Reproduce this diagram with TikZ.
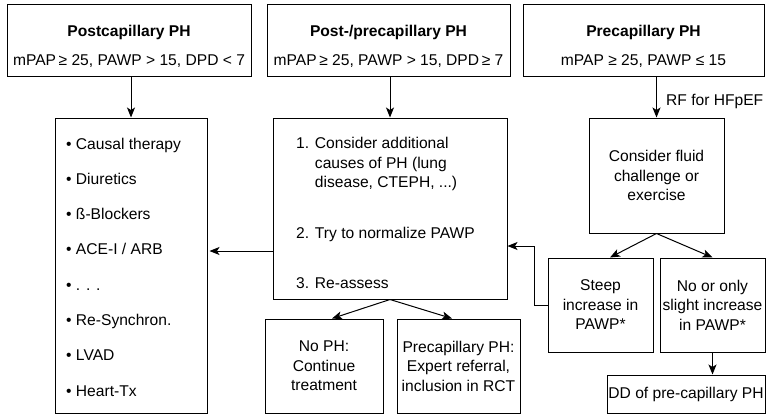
\documentclass[tikz,border=0pt]{standalone}
\usepackage{fontspec}
\setmainfont{Liberation Sans}
\usetikzlibrary{arrows.meta}
\begin{document}
\begin{tikzpicture}[x=1pt,y=-1pt,
  every node/.style={font=\fontsize{15.6}{19.5}\selectfont, inner sep=0pt},
  box/.style={draw, line width=1pt, rectangle},
  conn/.style={line width=1pt, -{Stealth[length=10pt,width=8pt,inset=2.5pt]}}]
\useasboundingbox (0,0) rectangle (766,415);
% top boxes
\node[box, minimum width=244, minimum height=72] (b1) at (129,40) {};
\node[box, minimum width=243, minimum height=72] (b2) at (388.5,40) {};
\node[box, minimum width=241, minimum height=72] (b3) at (643.5,40) {};
\node[font=\fontsize{15.6}{19.5}\selectfont\bfseries] (t1) at (129,32) {Postcapillary PH};
\node (s1) at (129,61) {mPAP\,≥ 25, PAWP > 15, DPD < 7};
\node[font=\fontsize{15.6}{19.5}\selectfont\bfseries] (t2) at (388.5,32) {Post-/precapillary PH};
\node (s2) at (388.5,61) {mPAP\,≥ 25, PAWP > 15, DPD\,≥ 7};
\node[font=\fontsize{15.6}{19.5}\selectfont\bfseries] (t3) at (643.5,32) {Precapillary PH};
\node (s3) at (643.5,61) {mPAP ≥ 25, PAWP ≤ 15};
% list box
\node[box, minimum width=152, minimum height=295] (tx) at (131,265.5) {};
\node[anchor=west, align=left, font=\fontsize{15.6}{35.3}\selectfont] (txl) at (66,267) {• Causal therapy\\• Diuretics\\• ß-Blockers\\• ACE-I / ARB\\• . . .\\• Re-Synchron.\\• LVAD\\• Heart-Tx};
% middle box
\node[box, minimum width=234, minimum height=181] (mid) at (390,208.5) {};
\node[anchor=north west, align=left] (midl) at (296,137) {1. Consider additional\\\phantom{1. }causes of PH (lung\\\phantom{1. }disease, CTEPH, ...)\\[31.5pt]2. Try to normalize PAWP\\[30.5pt]3. Re-assess};
% bottom middle boxes
\node[box, minimum width=118, minimum height=94, align=center] (noph) at (324,366) {No PH:\\Continue\\treatment};
\node[box, minimum width=123, minimum height=94, align=center] (prec) at (458.5,366) {Precapillary PH:\\Expert referral,\\inclusion in RCT};
% right column
\node[box, minimum width=135, minimum height=115, align=center] (cons) at (656.5,175.5) {Consider fluid\\challenge or\\exercise};
\node[box, minimum width=105, minimum height=94, align=center] (steep) at (600.5,305) {Steep\\increase in\\PAWP*};
\node[box, minimum width=105, minimum height=94, align=center] (noor) at (712.5,305) {No or only\\slight increase\\in PAWP*};
\node[box, minimum width=158, minimum height=38] (dd) at (686,394) {DD of pre-capillary PH};
\node[anchor=west] (rf) at (666,101) {RF for HFpEF};
% connectors
\draw[conn] (b1.south -| tx.north) -- (tx.north);
\draw[conn] (b2.south -| mid.north) -- (mid.north);
\draw[conn] (b3.south -| cons.north) -- (cons.north);
\draw[conn, shorten >=2pt] (mid.west |- 0,251) -- (tx.east |- 0,251);
\draw[conn] (mid.south) -- ([xshift=8pt]noph.north);
\draw[conn] (mid.south) -- ([xshift=-6.5pt]prec.north);
\draw[conn] (cons.south) -- ([xshift=9.5pt]steep.north);
\draw[conn] (cons.south) -- (noor.north);
\draw[conn] (noor.south) -- (noor.south |- dd.north);
\coordinate (fb1) at (534,305);
\coordinate (fb2) at (534,246);
\draw[conn] (steep.west) -- (fb1) -- (fb2) -- (mid.east |- fb2);
\end{tikzpicture}
\end{document}
